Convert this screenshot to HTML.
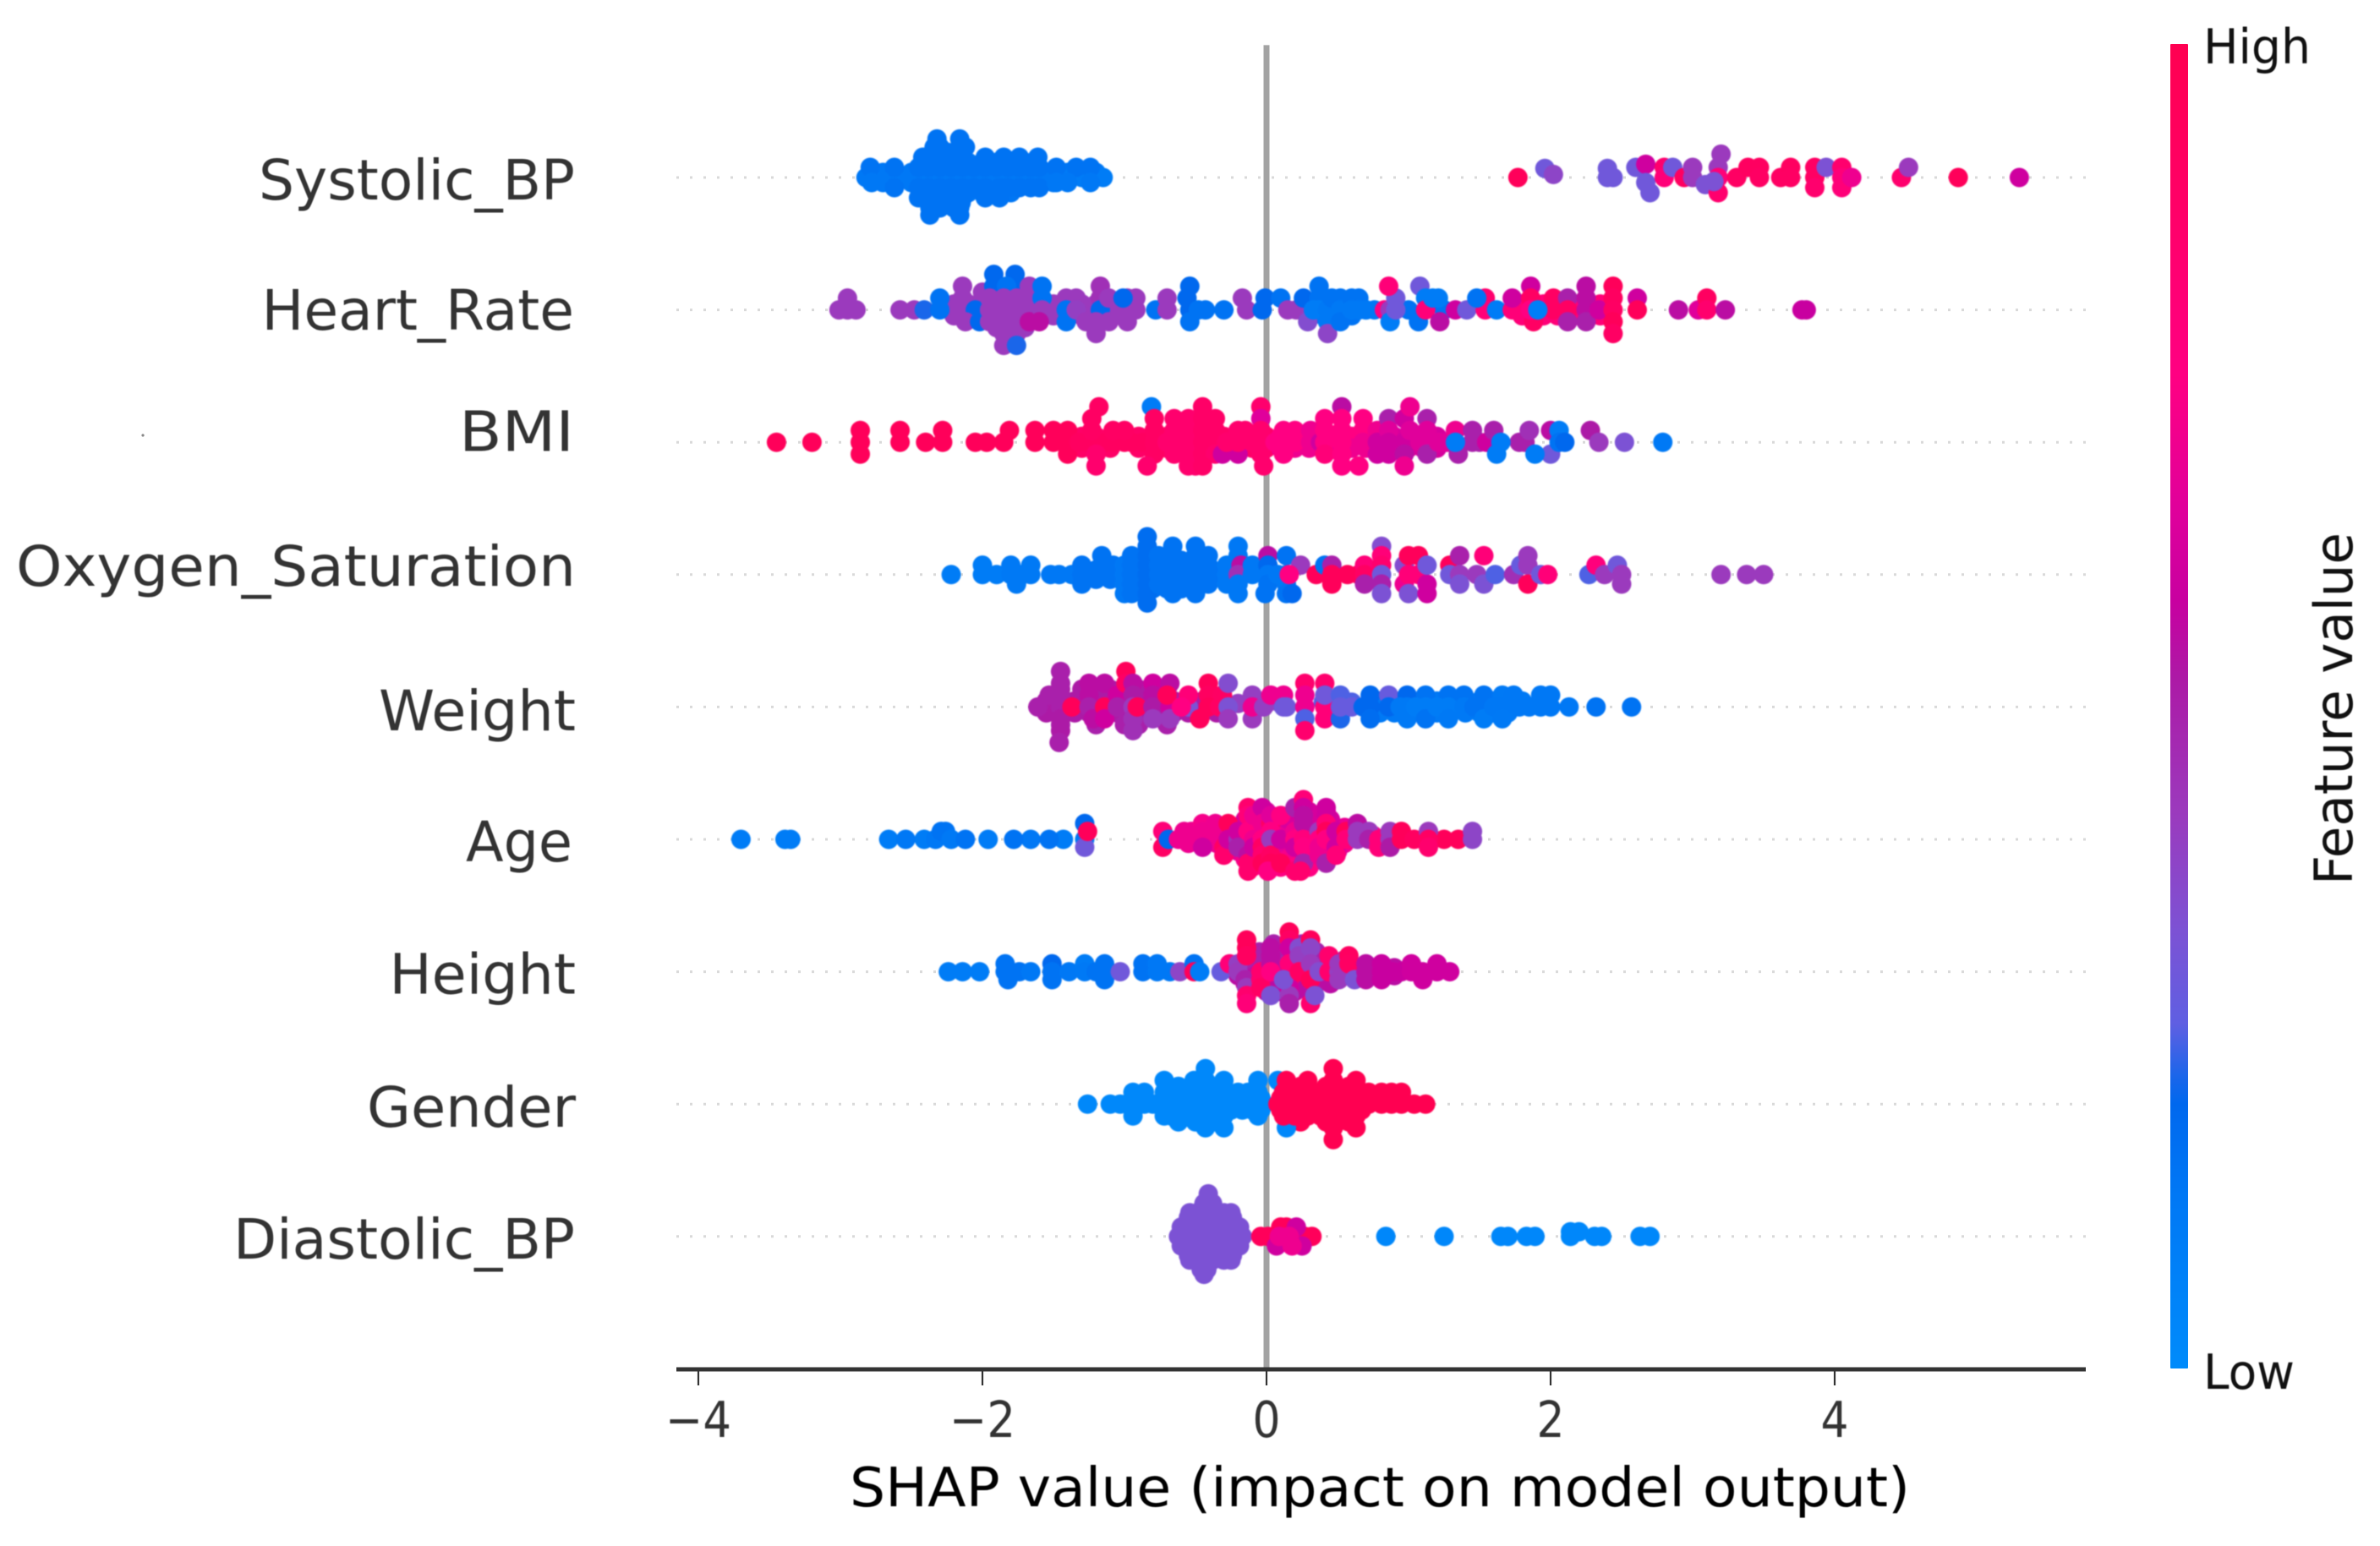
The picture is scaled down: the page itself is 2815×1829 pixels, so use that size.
<!DOCTYPE html>
<html lang="en">
<head>
<meta charset="utf-8">
<title>SHAP summary plot</title>
<style>
html,body{margin:0;padding:0;background:#fff;}
svg{display:block;font-family:"DejaVu Sans","Liberation Sans",sans-serif;}
#dots{filter:blur(0.7px);}
text{filter:blur(0.4px);}
</style>
</head>
<body>
<svg id="chart" xmlns="http://www.w3.org/2000/svg" width="2815" height="1829" viewBox="0 0 2815 1829">
<defs>
<linearGradient id="cbar-gradient" x1="0" y1="1" x2="0" y2="0"></linearGradient>
</defs>
<rect x="0" y="0" width="2815" height="1829" fill="#ffffff"></rect>
<circle cx="169" cy="515" r="1.6" fill="#888"></circle>
<g id="row-guides"></g>
<g id="zero"></g>
<g id="dots"></g>
<g id="xaxis"></g>
<g id="ylabels"></g>
<text x="1005" y="1782" font-size="64" fill="#000" textLength="1254" lengthAdjust="spacingAndGlyphs">SHAP value (impact on model output)</text>
<rect x="2567" y="52" width="21" height="1567" rx="1" fill="url(#cbar-gradient)"></rect>
<text x="2606" y="75" font-size="57" fill="#111" textLength="127" lengthAdjust="spacingAndGlyphs">High</text>
<text x="2606" y="1643" font-size="57" fill="#111" textLength="108" lengthAdjust="spacingAndGlyphs">Low</text>
<text transform="translate(2782 1047) rotate(-90)" x="0" y="0" font-size="62" fill="#111" textLength="417" lengthAdjust="spacingAndGlyphs">Feature value</text>
</svg>
<script>
// Categories and axis ticks
const categories = ["Systolic_BP","Heart_Rate","BMI","Oxygen_Saturation","Weight","Age","Height","Gender","Diastolic_BP"];
const tickValues = [-4,-2,0,2,4];
const tickLabels = ["\u22124","\u22122","0","2","4"];

// Each entry: [feature value 0..1, swarm layer, ...SHAP values]
const systolicSwarm = [
[.13,.5,-2.7,-2.5,-2.4,-2.3,-2.2,-2.1,-2,-1.9,-1.8,-1.7,-1.6,-1.5,-1.4,-1.3,-1.2],
[.13,-.5,-2.7,-2.5,-2.4,-2.3,-2.2,-2.1,-2,-1.9,-1.8,-1.7,-1.6,-1.5],
[.14,1.5,-2.4,-2.3,-2.2,-2.1,-2,-1.9,-1.8,-1.7],
[.14,-1.5,-2.4,-2.3,-2.2,-2.1,-2,-1.9,-1.8],
[.15,2.5,-2.35,-2.25,-2.15],[.15,-2.5,-2.35,-2.25,-2.15],
[.13,0,-2.82,-2.75,-2.62,-2.55,-2.48,-2.42,-2.35,-2.28,-2.2,-2.12,-2.05,-1.98,-1.9,-1.82,-1.75,-1.68,-1.6,-1.52,-1.45],
[.1,0,-1.38,-1.3,-1.22,-1.15],
[.15,1,-2.79,-2.62,-2.45,-2.38,-2.3,-2.22,-2.14,-2.06,-1.98,-1.9,-1.82,-1.74,-1.66,-1.6,-1.48,-1.34,-1.24],
[.15,2,-2.42,-2.36,-2.28,-2.2,-2.14,-1.98,-1.85,-1.74,-1.61],
[.15,3,-2.34,-2.3,-2.16,-2.12],
[.15,3.8,-2.32,-2.16],
[.15,-1,-2.62,-2.45,-2.38,-2.3,-2.22,-2.14,-2.06,-1.98,-1.88,-1.82,-1.74,-1.66,-1.6],
[.13,-.5,-2.78,-1.48,-1.4,-1.24],
[.15,-2,-2.45,-2.37,-2.3,-2.22,-2.14,-1.98,-1.88],
[.15,-3,-2.37,-2.3,-2.2,-2.16],
[.15,-3.7,-2.37,-2.16],
[.95,0,1.77],[.3,.9,1.96],[.38,.3,2.02],[.3,.9,2.4],[.3,0,2.4,2.44],
[.3,1,2.6],[.6,1.3,2.67],[.3,-1.5,2.7],[.3,-.5,2.67],
[.85,1,2.8],[.8,0,2.8],[.3,1,2.86],[.92,0,2.94],[.42,1,3.0],[.42,0,3.0],[.33,-.7,3.09],
[.42,2.3,3.2],[.42,1,3.18],[.8,0,3.18],[.85,-1.5,3.18],[.33,-.4,3.15],
[.9,0,3.31],[.92,1,3.39],[.92,1,3.47],[.9,0,3.47],[.9,0,3.62],[.92,1,3.69],[.9,0,3.69],
[.9,1,3.86],[.9,0,3.86],[.85,-1,3.86],[.33,1,3.94],[.85,1,4.05],[.8,0,4.05],[.8,-1,4.05],[.7,0,4.12],
[.85,0,4.47],[.42,1,4.52],[.95,0,4.87],[.6,0,5.3]
];
const heartRateSwarm = [
[.42,.5,-2.2,-2.1,-2,-1.9,-1.8,-1.7,-1.6,-1.5,-1.3,-1.2,-1.1,-1],
[.42,-.5,-2.2,-2.1,-2,-1.9,-1.8,-1.7,-1.6,-1.5,-1.3,-1.2,-1.1],
[.42,1.5,-2,-1.9,-1.8,-1.7,-1.6],[.42,-1.5,-1.9,-1.8,-1.7],
[.15,0,.3,.45,.55,.7,1.0,1.25],[.15,.5,.3,.4,.5,.6],[.15,-.5,.3,.4,.5,.6],
[.8,.5,1.8,1.95,2.05,2.2,2.35],[.8,-.5,1.8,1.95,2.05,2.2,2.35],
[.42,1,-2.95],[.42,0,-3.01,-2.95,-2.89,-2.58,-2.48],[.22,0,-2.41],[.15,0,-2.3],[.15,1,-2.3],
[.42,1,-2.14],[.42,2,-2.14],[.2,0,-2.05],[.42,-1,-2.12],[.2,-1,-2.02],
[.2,3,-1.92,-1.77],[.2,2,-1.92,-1.77],[.15,2,-1.83],[.42,1,-1.95,-1.85,-1.76],[.42,0,-1.95,-1.85,-1.76],[.42,-1,-1.95,-1.85,-1.76],
[.42,-2,-1.85,-1.76],[.42,-3,-1.85],[.22,-3,-1.76],
[.42,2,-1.67],[.42,1,-1.67],[.42,0,-1.67],[.55,-1,-1.67],[.15,2,-1.58],[.15,1,-1.58],[.42,0,-1.58],[.55,-1,-1.6],
[.42,1,-1.41,-1.34],[.15,0,-1.41],[.15,-1,-1.41],[.4,0,-1.34],[.45,2,-1.17],[.45,1,-1.17],[.2,0,-1.17],[.42,-1,-1.2,-1.27,-1.11],[.42,-2,-1.2],[.42,1,-1.11],
[.42,-1,-.98],[.42,0,-.98,-.92],[.42,1,-.98,-.92],[.2,1,-1.01],[.15,0,-.78],[.42,1,-.7],[.42,0,-.7],
[.2,2,-.54],[.2,1,-.56],[.2,0,-.54],[.15,-1,-.54],[.15,0,-.48,-.43,-.3],[.42,1,-.17],[.42,0,-.14],[.2,0,-.03],[.2,1,-.01],
[.15,1,.1],[.42,0,.15,.21],[.2,1,.26],[.35,-1,.29],[.15,2,.37],[.15,1,.37],[.1,0,.33,.37],[.12,0,.43],[.12,-1,.43],[.38,-2,.43],
[.15,1,.46,.52],[.12,0,.52],[.15,-1,.52],[.15,1,.65,.6],[.12,0,.65,.6],[.12,0,.76,.7],[.75,0,.83],[.42,0,.87],[.1,-1,.87],[.3,1,.91],[.3,0,.91],
[.8,2,.86],[.3,2,1.08],[.15,-1,1.07],[.1,1,1.12],[.8,0,1.12],[.1,1,1.21],[.1,1,1.17],[.55,-1,1.22],[.6,0,1.33],[.3,0,1.41],
[.85,1,1.54],[.8,0,1.54],[.15,1,1.48],[.1,0,1.62],[.8,0,1.73],[.6,1,1.73],[.6,2,1.86],[.9,1,1.86],[.9,-1,1.88],[.75,0,1.86],
[.9,1,2.02],[.9,0,2.02],[.5,1,2.12],[.9,0,2.12],[.5,-1,2.12],[.55,2,2.25],[.55,1,2.25],[.55,0,2.25],[.5,-1,2.25],[.6,0,2.34],
[.95,2,2.44],[.92,1,2.44],[.9,0,2.44],[.95,-1,2.44],[.9,-2,2.44],[.6,1,2.61],[.95,0,2.61],[.55,0,2.9],[.65,0,3.04],[.92,1,3.1],[.85,0,3.1],[.55,0,3.23],[.58,0,3.77,3.8],
[.08,0,1.91]
];
const bmiSwarm = [
[.88,.5,-1.3,-1.2,-1.1,-1,-.9,-.8,-.7,-.6,-.5,-.4,-.3,-.2,-.1,0],
[.88,-.5,-1.3,-1.2,-1.1,-.9,-.8,-.7,-.6,-.5,-.4,-.3,-.2,-.1,0],
[.75,.5,.1,.2,.3,.4,.5,.6,.7,.8],[.7,-.5,.1,.2,.3,.4,.5,.6,.7,.8],
[.62,.5,.9,1,1.1,1.2],[.62,-.5,.9,1,1.1,1.2],
[.95,0,-3.45,-3.2,-2.86,-2.58,-2.4,-2.28,-2.05,-1.97,-1.85,-1.63,-1.5,-1.4],
[.95,1,-2.86,-2.58,-2.28,-1.81,-1.63,-1.5,-1.4],[.95,-1,-2.86,-1.4],
[.92,0,-1.32,-1.26,-1.2,-1.14,-1.08,-1,-.95,-.87],[.9,3,-1.18],[.9,2,-1.23],[.9,1,-1.23,-1.08,-1],[.85,-1,-1.2],[.85,-2,-1.2],
[.1,3,-.81],[.9,2,-.79],[.9,1,-.79],[.9,0,-.79],[.9,-1,-.79],[.85,-2,-.84],
[.85,2,-.65,-.55],[.85,1,-.65,-.55],[.85,0,-.7,-.65,-.6,-.55],[.85,-1,-.65,-.55],[.85,-2,-.55,-.5],
[.88,3,-.45],[.88,2,-.45,-.36],[.88,1,-.45,-.36],[.88,0,-.45,-.36],[.88,-1,-.45],[.85,-1,-.36],[.88,-2,-.45],
[.6,-1,-.31,-.2],[.85,1,-.2,-.15],[.85,0,-.28,-.2,-.1],
[.85,3,-.04],[.65,2,-.04],[.85,1,-.04],[.85,0,-.04],[.85,-1,-.04],[.85,-2,-.02],
[.75,1,.12,.2],[.75,0,.06,.12,.2],[.75,-1,.12],[.7,1,.31],[.7,0,.31],[.6,0,.38],
[.75,2,.41],[.75,1,.41],[.75,0,.41],[.8,-1,.41],[.55,3,.53],[.75,2,.53],[.75,1,.53],[.75,0,.53],[.75,-1,.53],[.75,-2,.53,.65],
[.75,2,.68],[.75,1,.68],[.7,0,.68],[.7,1,.78],[.6,0,.78],[.6,-1,.78],[.5,2,.86],[.65,1,.86],[.6,0,.86],[.6,-1,.86],
[.6,2,.97],[.6,0,.97],[.55,-1,.97],[.7,-2,.97],[.7,3,1.01],[.65,1,1.01],[.5,2,1.13],[.65,1,1.13],[.65,0,1.08,1.13],[.5,-1,1.13],[.65,0,1.21,1.27],
[.7,1,1.33],[.5,-1,1.35],[.5,1,1.45],[.5,0,1.45,1.5],[.6,0,1.55],[.5,1,1.6],[.5,0,1.78,1.82],[.45,1,1.85],[.3,-1,2.0],[.55,1,2.0],[.52,1,2.28],[.42,0,2.34],
[.1,0,1.33,1.65],[.1,-1,1.62,1.89],[.1,1,2.06],[.15,0,2.06],[.2,0,2.1],[.33,0,2.52],[.12,0,2.79]
];
const oxygenSwarm = [
[.15,.5,-1.3,-1.2,-1.1,-1,-.9,-.8,-.7,-.6,-.5,-.4,-.3,-.2],
[.15,-.5,-1.3,-1.2,-1.1,-1,-.9,-.8,-.7,-.6,-.5,-.4,-.3,-.2],
[.15,1.5,-.9,-.8,-.7,-.6,-.5],[.15,-1.5,-.9,-.8,-.7,-.6,-.5],
[.1,0,-2.22,-2.0,-1.9],[.1,1,-2.0],[.12,1,-1.8,-1.66],[.12,0,-1.8,-1.72,-1.66],[.12,-1,-1.76],
[.13,0,-1.52,-1.46,-1.37],[.15,1,-1.3],[.15,0,-1.3],[.15,-1,-1.3],[.15,2,-1.16],[.15,1,-1.16,-1.08],[.15,0,-1.2,-1.16,-1.08],
[.13,1,-1],[.13,0,-1],[.13,-1,-1],[.13,-2,-1],[.15,2,-.95],[.15,1,-.95],[.15,0,-.95],[.15,-1,-.95],[.15,-2,-.95],
[.18,4,-.84],[.18,3,-.84],[.18,2,-.84],[.18,1,-.84],[.18,0,-.84],[.18,-1,-.84],[.18,-2,-.84],[.18,-3,-.84],
[.15,2,-.76],[.15,1,-.76],[.15,0,-.76],[.15,-1,-.76],
[.15,3,-.66,-.5],[.15,2,-.66,-.5],[.15,1,-.66,-.57,-.5],[.15,0,-.66,-.57,-.5],[.15,-1,-.66,-.57,-.5],[.15,-2,-.66,-.5],
[.15,2,-.41],[.15,1,-.41],[.15,0,-.41],[.15,-1,-.41],[.13,1,-.28],[.13,0,-.28],[.13,-1,-.28],
[.13,3,-.2],[.13,2,-.2],[.55,1,-.18],[.45,0,-.2],[.13,-1,-.2],[.13,-2,-.2],[.13,1,-.1],[.13,0,-.1],
[.55,2,.01],[.2,1,.01],[.13,0,.01],[.15,-1,.01],[.15,-2,-.01],[.15,2,.14],[.13,0,.08,.14],[.13,-1,.14],[.15,-2,.14],[.42,1,.24],[.75,0,.16],[.2,-2,.18],
[.95,0,.35],[.15,1,.41],[.5,1,.46],[.95,0,.46],[.95,-1,.46],[.95,0,.57,.65],[.8,1,.69],[.9,0,.69],[.5,-1,.69],
[.35,3,.81],[.8,2,.81],[.85,1,.81],[.3,0,.81],[.5,-1,.81],[.33,-2,.81],[.35,1,.97],[.7,-1,.97],[.95,2,1.0,1.07],[.8,0,1.0,1.07],[.33,-2,1.0],
[.6,-2,1.13],[.6,-1,1.13],[.3,1,1.13],[.95,1,1.29],[.3,0,1.29],[.5,2,1.36],[.42,0,1.36],[.33,-1,1.36],[.42,0,1.48],[.8,2,1.53],[.33,-1,1.53],[.25,0,1.61],[.45,0,1.74],[.28,1,1.79],
[.42,2,1.84],[.42,1,1.84],[.95,-1,1.84],[.3,0,1.93],[.8,0,1.98],[.25,0,2.27],[.78,1,2.32],[.42,0,2.38],[.3,1,2.47],[.42,0,2.5],[.42,-1,2.5],[.42,0,3.2,3.38,3.5]
];
const weightSwarm = [
[.52,.5,-1.55,-1.45,-1.35,-1.25,-1.15,-1.05,-.95,-.85,-.75,-.65,-.55,-.45,-.35],
[.52,-.5,-1.55,-1.45,-1.35,-1.25,-1.15,-1.05,-.95,-.85,-.75,-.65,-.55,-.45,-.35],
[.52,1.5,-1.45,-1.3,-1.2,-1.1,-.9,-.8,-.7],[.5,-1.5,-1.45,-1.2,-1,-.9,-.7],
[.4,.3,-.2,-.1,0,.1],[.25,.4,.4,.5,.6],
[.12,.5,.8,.9,1,1.1,1.2,1.3,1.4,1.5,1.6,1.7,1.8],[.12,-.5,.8,.9,1,1.1,1.2,1.3,1.4,1.5,1.6,1.7],
[.5,0,-1.61],[.5,1,-1.53],[.5,3,-1.45],[.5,2,-1.45],[.5,1,-1.45],[.5,0,-1.45],[.52,-1,-1.45],[.52,-2,-1.45],[.5,-3,-1.46],[.95,0,-1.37],
[.55,2,-1.25],[.55,1,-1.25],[.5,0,-1.25],[.55,-1,-1.22],[.55,2,-1.14],[.95,0,-1.14],[.6,-1,-1.14],[.6,1,-1.05],[.5,0,-1.05],[.95,3,-.99],[.9,2,-.99],
[.55,2,-.94],[.52,1,-.94],[.42,0,-.94],[.45,-1,-.94],[.45,-2,-.94],[.95,0,-.91],[.6,2,-.8],[.55,1,-.8],[.52,0,-.8],[.42,-1,-.8],
[.55,2,-.68],[.6,0,-.68],[.42,-1,-.68],[.95,1,-.7],[.33,0,-.55],[.8,1,-.55],[.75,0,-.6],[.95,-1,-.47],[.95,2,-.41],[.92,1,-.41],[.95,0,-.41],[.9,1,-.31],[.9,0,-.33],[.35,2,-.27],[.33,0,-.27],[.42,-1,-.27],
[.4,1,-.1],[.42,-1,-.1],[.7,0,-.1],[.4,0,-.02],[.7,1,.12,.03],[.3,0,.12,.14],[.85,2,.27],[.7,1,.27],[.7,0,.27],[.25,-1,.27],[.85,-2,.27],[.85,2,.41],[.8,0,.41],[.8,-1,.41],[.3,1,.41],
[.25,1,.52],[.22,-1,.52],[.28,0,.52,.6],[.2,1,.73],[.2,0,.68,.73],[.18,-1,.73],[.28,1,.86],[.2,0,.86],[.2,1,.99],[.12,0,.94,.99],[.12,-1,.99],
[.15,1,1.12],[.1,0,1.05,1.12],[.15,-1,1.12],[.15,1,1.28],[.1,0,1.2,1.28],[.12,-1,1.28],[.15,1,1.39],[.12,0,1.39],[.15,1,1.53],[.15,0,1.53,1.46],[.1,-1,1.53],
[.12,1,1.66],[.13,0,1.6,1.66],[.12,-1,1.66],[.13,1,1.74,1.93,2.0],[.13,0,1.78,1.85,1.93,2.0,2.13],[.15,0,2.32,2.57]
];
const ageSwarm = [
[.72,.5,-.55,-.45,-.35,-.25,-.15,-.05,.05,.15,.25,.35,.45,.55,.65,.75],
[.7,-.5,-.55,-.45,-.35,-.25,-.15,-.05,.05,.15,.25,.35,.45,.55],
[.68,1.5,-.35,-.25,-.15,-.05,.05,.15,.25,.35,.45,.55],
[.66,-1.5,-.3,-.2,-.1,0,.1,.2,.3,.4,.5],
[.62,2.5,-.15,-.05,.05,.15,.25,.35,.45],[.72,-2.5,-.15,-.05,.05,.15,.25,.35],
[.62,3.5,-.1,0,.2,.3,.42],[.75,-3.5,-.1,0,.1,.2,.3],
[.1,0,-3.7,-3.39,-3.35,-2.66,-2.41,-1.96,-1.43],[.13,0,-2.54,-2.33,-1.66],[.15,1,-2.29,-2.26],[.12,0,-2.22,-1.28],[.15,0,-2.12,-1.78,-1.53],
[.2,2,-1.28],[.3,-1,-1.28],[.95,1,-1.26],[.8,1,-.73],[.9,-1,-.73],[.2,0,-.69],
[.7,1,-.58,-.53,-.36],[.7,0,-.62,-.53,-.45,-.36],[.72,2,-.45],[.7,1,-.45],[.6,-1,-.45],[.7,2,-.36],[.9,-1,-.3],[.85,-2,-.3],[.95,2,-.27],[.6,0,-.27],
[.45,0,-.2],[.6,1,-.2],[.5,-1,-.2],[.85,4,-.13],[.8,3,-.13],[.75,1,-.13],[.55,-2,-.13],[.85,-3,-.13],[.85,-4,-.13],[.7,0,-.09],[.6,-1,-.09],[.7,3,-.09],
[.6,4,-.03],[.7,2,-.03],[.75,0,-.03],[.9,-1,-.03],[.85,-2,-.03],[.95,-3,-.03],[.9,2,.03],[.65,3,.03],[.75,1,.03],[.42,0,.03],[.9,-2,.03],[.95,-3,.03],[.75,-4,.01],
[.75,3,.1],[.6,0,.1],[.95,-3,.1],[.5,4,.2],[.7,1,.2],[.75,0,.2],[.6,-1,.2],[.85,-4,.2],[.8,5,.26],[.6,4,.26],[.55,3,.26],[.55,2,.26],[.78,0,.26],[.75,-1,.26],[.5,-3,.26],[.85,-4,.24],
[.42,1,.37],[.75,0,.37],[.7,-1,.37],[.7,-2,.37],[.6,4,.42],[.6,3,.42],[.8,2,.42],[.95,1,.42],[.75,0,.42],[.5,-3,.42],[.6,1,.49],[.6,-1,.49],[.8,-2,.49],
[.95,1,.56],[.8,0,.56],[.55,2,.64],[.42,1,.64],[.42,0,.64],[.42,1,.72],[.5,0,.72],[.8,0,.79],[.8,-1,.79],[.42,1,.87],[.42,0,.87],[.52,-1,.87],
[.95,1,.95],[.95,0,.95,1.25,1.35],[.92,0,1.04],[.42,1,1.14],[.9,0,1.14],[.85,-1,1.14],[.38,1,1.45],[.38,0,1.45]
];
const heightSwarm = [
[.55,.5,-.2,-.1,0,.1,.2,.3,.4,.5,.6,.7,.8,.9],[.55,-.5,-.2,-.1,0,.1,.2,.3,.4,.5,.6,.7,.8,.9],
[.5,1.5,-.15,-.05,.05,.15,.25,.35,.45,.55],[.55,-1.5,-.15,-.05,.05,.15,.25,.35,.45],
[.5,2.5,-.05,.05,.15,.25,.35],[.55,-2.5,0,.1,.2,.3],[.5,3.5,.05,.15,.25],
[.1,0,-2.24,-2.14,-2.02],[.15,1,-1.84],[.15,0,-1.84],[.15,-1,-1.82],[.15,0,-1.74],[.13,0,-1.66],[.2,1,-1.51],[.15,0,-1.51],[.15,-1,-1.51],[.13,0,-1.39],[.1,1,-1.28],[.12,0,-1.28],
[.15,1,-1.14],[.15,0,-1.2,-1.14],[.15,-1,-1.14],[.3,0,-1.03],[.15,1,-.87],[.15,0,-.87],[.13,1,-.77],[.13,0,-.77,-.68],[.38,0,-.61],[.15,1,-.51],[.95,0,-.51],[.1,0,-.47],
[.28,0,-.32],[.8,1,-.26],[.4,1,-.2],[.42,0,-.2],[.5,-1,-.15],[.95,4,-.14],[.95,3,-.14],[.92,2,-.14],[.42,-2,-.14],[.85,-3,-.14],[.8,-4,-.14],
[.85,0,-.04],[.85,-1,-.04],[.9,-2,-.04],[.55,3,.03],[.55,2,.03],[.55,1,.03],[.75,0,.03],[.33,-3,.03],[.95,5,.16],[.9,4,.16],[.6,3,.16],[.8,1,.16],[.85,-1,.16],[.6,-2,.16],[.42,-3,.16],[.5,-4,.16],[.33,-1,.12],
[.35,3,.23],[.4,2,.23],[.9,0,.23],[.95,4,.31],[.38,3,.31],[.42,1,.31],[.95,-1,.31],[.85,-4,.31],[.33,-3,.34],[.35,0,.37],[.85,2,.44],[.85,0,.44],[.4,0,.51],[.42,-1,.51],[.42,1,.51],
[.92,2,.58],[.9,1,.58],[.33,-1,.62],[.55,1,.7],[.55,0,.7],[.55,-1,.7],[.58,1,.81],[.58,0,.81],[.58,-1,.81],[.58,0,.89,.95],[.6,1,1.02],[.6,0,1.02],[.6,-1,1.1],[.6,0,1.1],[.6,1,1.2],[.6,0,1.2,1.29]
];
const genderSwarm = [
[.02,.5,-.7,-.62,-.55,-.47,-.4,-.33,-.25,-.17,-.1,-.04],[.02,-.5,-.7,-.62,-.55,-.47,-.4,-.33,-.25,-.17,-.1,-.04],
[.02,1.5,-.62,-.5,-.43,-.35],[.02,-1.5,-.62,-.5,-.43,-.35],
[1,.5,.1,.15,.24,.33,.42,.5,.58,.67,.76],[1,-.5,.1,.15,.24,.33,.42,.5,.58,.67],
[1,1.5,.24,.42,.5,.58],[1,-1.5,.15,.24,.42,.5,.58],
[.02,0,-1.26,-1.1,-1.03,-.94,-.86,-.8,-.72,-.67,-.6,-.51,-.43,-.37,-.3,-.2,-.13,-.06,-.02],
[.02,1,-.94,-.86,-.72,-.67,-.6,-.51,-.43,-.37,-.3,-.2,-.13,-.06],
[.02,-1,-.94,-.72,-.67,-.6,-.51,-.43,-.37,-.3,-.06],
[.02,2,-.72,-.51,-.43,-.3,-.06,.08],[.02,3,-.43],[.02,-2,-.43,-.3,.14],
[1,0,.08,.12,.2,.29,.38,.47,.54,.63,.72,.81,.88,.95,1.04,1.12],
[1,1,.12,.29,.38,.47,.54,.63,.72,.81,.88,.95],
[1,-1,.12,.2,.29,.38,.47,.54,.63],
[1,2,.14,.29,.47,.63],[1,3,.47],[1,-2,.47,.63],[1,-3,.47]
];
const diastolicSwarm = [
[.33,0,-.62,-.56,-.5,-.44,-.38,-.32,-.26,-.2,-.17],
[.33,2,-.6,-.54,-.48,-.42,-.36,-.3,-.24,-.19],[.33,-2,-.6,-.54,-.48,-.42,-.36,-.3,-.24,-.19],
[.33,4,-.55,-.49,-.43,-.37,-.31,-.24],[.33,-4,-.55,-.49,-.43,-.37,-.31,-.24],
[.33,5,-.54,-.46,-.38,-.3,-.25],[.33,-5,-.54,-.46,-.38,-.3,-.25],
[.33,7,-.44,-.38],[.33,9,-.41],[.33,6,-.45,-.4],[.33,-7,-.46,-.42],[.33,-8,-.44],
[.95,0,-.04,.01,.27,.32],[.95,2,.14,.1],[.6,-2,.07,.25],[.6,2,.21],[.7,-2,.18],[.7,0,.09,.16],
[.03,0,.84,1.25,1.65,1.7,1.83,1.89,2.14,2.31,2.36,2.63,2.7],[.03,1,2.14,2.2]
];
const swarms = [systolicSwarm,heartRateSwarm,bmiSwarm,oxygenSwarm,weightSwarm,ageSwarm,heightSwarm,genderSwarm,diastolicSwarm];

// Colormap (feature value -> colour), low to high
const cmapPos = [0,.13,.2,.22,.26,.33,.42,.52,.58,.65,.75,.88,1];
const cmapHex = ["#008bfb","#0078f5","#0068ee","#1a66ea","#5f5fe2","#7c52d4","#9b3abd","#ac1aa6","#c800a0","#e0009b","#ff0082","#ff0067","#ff0051"];

// Layout
const SVG_NS = "http://www.w3.org/2000/svg";
const X0 = 1498, XK = 168, Y0 = 210, YK = 156.6, AXIS_Y = 1620, AXIS_L = 800, AXIS_R = 2467;
const DOT_R = 11.5;
const layerGapPx = [12,14,14,11.2,14,9.4,9.4,14,5.6];
const labelLayout = [[306,680,236],[309.5,679,390],[543,679,533.5],[19,681,693],[448,681,864],[551,677,1019],[460.5,681,1175.5],[434,681,1333],[276,680,1489]];

function xScale(v){ return X0 + XK * v; }
function rowY(i){ return Y0 + YK * i; }
function hexRgb(h){ return [parseInt(h.substr(1,2),16),parseInt(h.substr(3,2),16),parseInt(h.substr(5,2),16)]; }
function colorFor(t){
  const c = Math.max(0,Math.min(1,t));
  for(let k=1;k<cmapPos.length;k++){
    if(c<=cmapPos[k]){
      const f=(c-cmapPos[k-1])/(cmapPos[k]-cmapPos[k-1]);
      const a=hexRgb(cmapHex[k-1]), b=hexRgb(cmapHex[k]);
      return "rgb("+Math.round(a[0]+(b[0]-a[0])*f)+","+Math.round(a[1]+(b[1]-a[1])*f)+","+Math.round(a[2]+(b[2]-a[2])*f)+")";
    }
  }
  return cmapHex[cmapHex.length-1];
}
function mk(tag,attrs,parent){
  const el=document.createElementNS(SVG_NS,tag);
  for(const k in attrs){ el.setAttribute(k,attrs[k]); }
  parent.appendChild(el);
  return el;
}

// Colorbar gradient
const grad=document.getElementById("cbar-gradient");
cmapPos.forEach(function(p,i){
  const s=mk("stop",{offset:p,"stop-color":cmapHex[i]},grad);
  
  
});

// Row guides
const guides=document.getElementById("row-guides");
categories.forEach(function(c,i){
  const l=mk("line",{x1:AXIS_L,x2:AXIS_R,y1:rowY(i),y2:rowY(i),stroke:"#d9d9d9","stroke-width":3,"stroke-dasharray":"3 13"},guides);
  
  
});

// Zero line
const zeroLine=mk("line",{x1:xScale(0),x2:xScale(0),y1:rowY(-1),y2:AXIS_Y,stroke:"#a3a3a3","stroke-width":7},document.getElementById("zero"));



// Points
const dotsG=document.getElementById("dots");
swarms.forEach(function(rows,i){
  rows.forEach(function(stratum){
    const feature=stratum[0], layer=stratum[1];
    for(let k=2;k<stratum.length;k++){
      const d=mk("circle",{cx:xScale(stratum[k]),cy:rowY(i)-layer*layerGapPx[i],r:DOT_R,fill:colorFor(feature)},dotsG);
      
      
    }
  });
});

// X axis
const xaxis=document.getElementById("xaxis");
const axisLine=mk("line",{x1:AXIS_L,x2:AXIS_R,y1:AXIS_Y,y2:AXIS_Y,stroke:"#333","stroke-width":5},xaxis);


tickValues.forEach(function(v,i){
  const t=mk("line",{x1:xScale(v),x2:xScale(v),y1:AXIS_Y,y2:AXIS_Y+19,stroke:"#333","stroke-width":2.2},xaxis);
  
  
  const lab=mk("text",{x:xScale(v),y:1700,"text-anchor":"middle","font-size":59,fill:"#333",textLength:v<0?78:33,lengthAdjust:"spacingAndGlyphs"},xaxis);
  lab.textContent=tickLabels[i];
  
  
});

// Y labels
const yl=document.getElementById("ylabels");
categories.forEach(function(c,i){
  const b=labelLayout[i];
  const t=mk("text",{x:b[0],y:b[2],"font-size":66,fill:"#333",textLength:b[1]-b[0],lengthAdjust:"spacingAndGlyphs"},yl);
  t.textContent=c;
  
  
});
</script>
</body>
</html>
